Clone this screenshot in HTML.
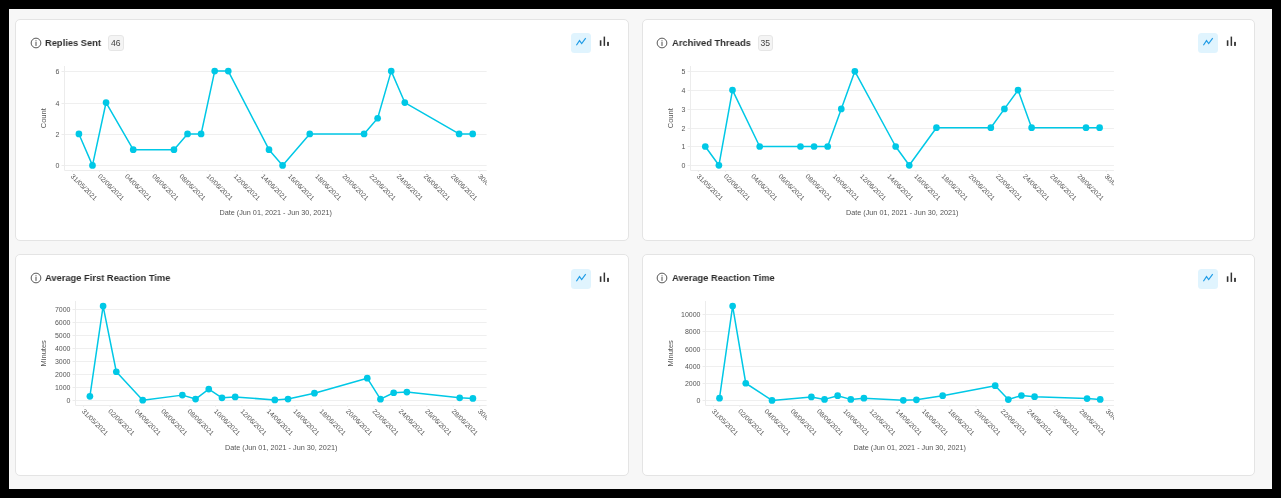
<!DOCTYPE html><html><head><meta charset="utf-8"><style>
*{margin:0;padding:0;box-sizing:border-box}
html,body{width:1281px;height:498px;overflow:hidden;background:#000;font-family:"Liberation Sans", sans-serif}
#bg{position:absolute;left:9px;top:9px;width:1263px;height:480px;background:#f7f7f7}
.card{position:absolute;background:#fff;border:1px solid #e4e4e4;border-radius:5px}
.ttl{position:absolute;font-weight:bold;font-size:9.9px;transform:scaleX(0.944);transform-origin:0 0;color:#2d2d2d;white-space:nowrap;line-height:1}
.badge{position:absolute;height:16px;border:1px solid #e6e6e6;background:#f4f4f4;border-radius:3px;font-size:8.6px;color:#444;line-height:15px;text-align:center}
.ic{position:absolute}
.btn{position:absolute;width:20px;height:20px;border-radius:3.5px;background:#e0f4fe}
svg.chart{position:absolute;left:0;top:0;will-change:transform}
.ttl,.badge{will-change:transform}
</style></head><body><div id="bg"></div>
<div class="card" style="left:15px;top:19px;width:614px;height:222px"></div>
<svg class="ic" style="left:29.7px;top:36.6px" width="12" height="12" viewBox="0 0 12 12"><circle cx="6" cy="6" r="4.85" fill="none" stroke="#3a3a3a" stroke-width="0.85"/><rect x="5.55" y="4.9" width="0.9" height="4" fill="#3a3a3a"/><circle cx="6" cy="3.75" r="0.6" fill="#3a3a3a"/></svg>
<div class="ttl" style="left:45.4px;top:37.6px">Replies Sent</div>
<div class="btn" style="left:571px;top:33px"></div>
<svg class="ic" style="left:571px;top:33px" width="20" height="20" viewBox="0 0 20 20"><polyline points="5.4,12.25 8.5,7.6 10.7,10.6 14.7,5.2" fill="none" stroke="#1e9be6" stroke-width="1.15"/></svg>
<svg class="ic" style="left:599px;top:33px" width="12" height="20" viewBox="0 0 12 20"><rect x="0.8" y="7.3" width="1.6" height="5.6" fill="#333"/><rect x="4.6" y="3.6" width="1.5" height="9.3" fill="#333"/><rect x="8.1" y="8.9" width="1.8" height="4" fill="#333"/></svg>
<div class="card" style="left:642px;top:19px;width:613px;height:222px"></div>
<svg class="ic" style="left:656.2px;top:36.6px" width="12" height="12" viewBox="0 0 12 12"><circle cx="6" cy="6" r="4.85" fill="none" stroke="#3a3a3a" stroke-width="0.85"/><rect x="5.55" y="4.9" width="0.9" height="4" fill="#3a3a3a"/><circle cx="6" cy="3.75" r="0.6" fill="#3a3a3a"/></svg>
<div class="ttl" style="left:672.4px;top:37.6px">Archived Threads</div>
<div class="btn" style="left:1198px;top:33px"></div>
<svg class="ic" style="left:1198px;top:33px" width="20" height="20" viewBox="0 0 20 20"><polyline points="5.4,12.25 8.5,7.6 10.7,10.6 14.7,5.2" fill="none" stroke="#1e9be6" stroke-width="1.15"/></svg>
<svg class="ic" style="left:1226px;top:33px" width="12" height="20" viewBox="0 0 12 20"><rect x="0.8" y="7.3" width="1.6" height="5.6" fill="#333"/><rect x="4.6" y="3.6" width="1.5" height="9.3" fill="#333"/><rect x="8.1" y="8.9" width="1.8" height="4" fill="#333"/></svg>
<div class="card" style="left:15px;top:254px;width:614px;height:222px"></div>
<svg class="ic" style="left:29.7px;top:272.4px" width="12" height="12" viewBox="0 0 12 12"><circle cx="6" cy="6" r="4.85" fill="none" stroke="#3a3a3a" stroke-width="0.85"/><rect x="5.55" y="4.9" width="0.9" height="4" fill="#3a3a3a"/><circle cx="6" cy="3.75" r="0.6" fill="#3a3a3a"/></svg>
<div class="ttl" style="left:45.4px;top:272.6px">Average First Reaction Time</div>
<div class="btn" style="left:571px;top:269px"></div>
<svg class="ic" style="left:571px;top:269px" width="20" height="20" viewBox="0 0 20 20"><polyline points="5.4,12.25 8.5,7.6 10.7,10.6 14.7,5.2" fill="none" stroke="#1e9be6" stroke-width="1.15"/></svg>
<svg class="ic" style="left:599px;top:269px" width="12" height="20" viewBox="0 0 12 20"><rect x="0.8" y="7.3" width="1.6" height="5.6" fill="#333"/><rect x="4.6" y="3.6" width="1.5" height="9.3" fill="#333"/><rect x="8.1" y="8.9" width="1.8" height="4" fill="#333"/></svg>
<div class="card" style="left:642px;top:254px;width:613px;height:222px"></div>
<svg class="ic" style="left:656.2px;top:272.4px" width="12" height="12" viewBox="0 0 12 12"><circle cx="6" cy="6" r="4.85" fill="none" stroke="#3a3a3a" stroke-width="0.85"/><rect x="5.55" y="4.9" width="0.9" height="4" fill="#3a3a3a"/><circle cx="6" cy="3.75" r="0.6" fill="#3a3a3a"/></svg>
<div class="ttl" style="left:672.4px;top:272.6px">Average Reaction Time</div>
<div class="btn" style="left:1198px;top:269px"></div>
<svg class="ic" style="left:1198px;top:269px" width="20" height="20" viewBox="0 0 20 20"><polyline points="5.4,12.25 8.5,7.6 10.7,10.6 14.7,5.2" fill="none" stroke="#1e9be6" stroke-width="1.15"/></svg>
<svg class="ic" style="left:1226px;top:269px" width="12" height="20" viewBox="0 0 12 20"><rect x="0.8" y="7.3" width="1.6" height="5.6" fill="#333"/><rect x="4.6" y="3.6" width="1.5" height="9.3" fill="#333"/><rect x="8.1" y="8.9" width="1.8" height="4" fill="#333"/></svg>
<svg class="chart" width="1281" height="498" font-family="Liberation Sans, sans-serif">
<clipPath id="clip0"><rect x="15" y="19" width="471.80" height="222"/></clipPath>
<g clip-path="url(#clip0)">
<line x1="64.50" x2="486.80" y1="165.50" y2="165.50" stroke="#efefef" stroke-width="1"/>
<line x1="64.50" x2="486.80" y1="134.50" y2="134.50" stroke="#efefef" stroke-width="1"/>
<line x1="64.50" x2="486.80" y1="103.50" y2="103.50" stroke="#efefef" stroke-width="1"/>
<line x1="64.50" x2="486.80" y1="71.50" y2="71.50" stroke="#efefef" stroke-width="1"/>
<line x1="64.50" x2="64.50" y1="66.00" y2="170.50" stroke="#ececec" stroke-width="1"/>
<line x1="61.50" x2="64.50" y1="165.50" y2="165.50" stroke="#ececec" stroke-width="1"/>
<text x="59.50" y="168.00" text-anchor="end" font-size="7" fill="#555">0</text>
<line x1="61.50" x2="64.50" y1="134.50" y2="134.50" stroke="#ececec" stroke-width="1"/>
<text x="59.50" y="137.00" text-anchor="end" font-size="7" fill="#555">2</text>
<line x1="61.50" x2="64.50" y1="103.50" y2="103.50" stroke="#ececec" stroke-width="1"/>
<text x="59.50" y="106.00" text-anchor="end" font-size="7" fill="#555">4</text>
<line x1="61.50" x2="64.50" y1="71.50" y2="71.50" stroke="#ececec" stroke-width="1"/>
<text x="59.50" y="74.00" text-anchor="end" font-size="7" fill="#555">6</text>
<line x1="64.50" x2="486.80" y1="170.50" y2="170.50" stroke="#ececec" stroke-width="1"/>
<line x1="72.40" x2="72.40" y1="170.00" y2="172.00" stroke="#ececec" stroke-width="1"/>
<text x="70.30" y="176.80" transform="rotate(45 70.30 176.80)" font-size="6.8" fill="#555">31/05/2021</text>
<line x1="99.56" x2="99.56" y1="170.00" y2="172.00" stroke="#ececec" stroke-width="1"/>
<text x="97.46" y="176.80" transform="rotate(45 97.46 176.80)" font-size="6.8" fill="#555">02/06/2021</text>
<line x1="126.72" x2="126.72" y1="170.00" y2="172.00" stroke="#ececec" stroke-width="1"/>
<text x="124.62" y="176.80" transform="rotate(45 124.62 176.80)" font-size="6.8" fill="#555">04/06/2021</text>
<line x1="153.88" x2="153.88" y1="170.00" y2="172.00" stroke="#ececec" stroke-width="1"/>
<text x="151.78" y="176.80" transform="rotate(45 151.78 176.80)" font-size="6.8" fill="#555">06/06/2021</text>
<line x1="181.03" x2="181.03" y1="170.00" y2="172.00" stroke="#ececec" stroke-width="1"/>
<text x="178.93" y="176.80" transform="rotate(45 178.93 176.80)" font-size="6.8" fill="#555">08/06/2021</text>
<line x1="208.19" x2="208.19" y1="170.00" y2="172.00" stroke="#ececec" stroke-width="1"/>
<text x="206.09" y="176.80" transform="rotate(45 206.09 176.80)" font-size="6.8" fill="#555">10/06/2021</text>
<line x1="235.35" x2="235.35" y1="170.00" y2="172.00" stroke="#ececec" stroke-width="1"/>
<text x="233.25" y="176.80" transform="rotate(45 233.25 176.80)" font-size="6.8" fill="#555">12/06/2021</text>
<line x1="262.51" x2="262.51" y1="170.00" y2="172.00" stroke="#ececec" stroke-width="1"/>
<text x="260.41" y="176.80" transform="rotate(45 260.41 176.80)" font-size="6.8" fill="#555">14/06/2021</text>
<line x1="289.67" x2="289.67" y1="170.00" y2="172.00" stroke="#ececec" stroke-width="1"/>
<text x="287.57" y="176.80" transform="rotate(45 287.57 176.80)" font-size="6.8" fill="#555">16/06/2021</text>
<line x1="316.83" x2="316.83" y1="170.00" y2="172.00" stroke="#ececec" stroke-width="1"/>
<text x="314.73" y="176.80" transform="rotate(45 314.73 176.80)" font-size="6.8" fill="#555">18/06/2021</text>
<line x1="343.99" x2="343.99" y1="170.00" y2="172.00" stroke="#ececec" stroke-width="1"/>
<text x="341.89" y="176.80" transform="rotate(45 341.89 176.80)" font-size="6.8" fill="#555">20/06/2021</text>
<line x1="371.14" x2="371.14" y1="170.00" y2="172.00" stroke="#ececec" stroke-width="1"/>
<text x="369.04" y="176.80" transform="rotate(45 369.04 176.80)" font-size="6.8" fill="#555">22/06/2021</text>
<line x1="398.30" x2="398.30" y1="170.00" y2="172.00" stroke="#ececec" stroke-width="1"/>
<text x="396.20" y="176.80" transform="rotate(45 396.20 176.80)" font-size="6.8" fill="#555">24/06/2021</text>
<line x1="425.46" x2="425.46" y1="170.00" y2="172.00" stroke="#ececec" stroke-width="1"/>
<text x="423.36" y="176.80" transform="rotate(45 423.36 176.80)" font-size="6.8" fill="#555">26/06/2021</text>
<line x1="452.62" x2="452.62" y1="170.00" y2="172.00" stroke="#ececec" stroke-width="1"/>
<text x="450.52" y="176.80" transform="rotate(45 450.52 176.80)" font-size="6.8" fill="#555">28/06/2021</text>
<line x1="479.78" x2="479.78" y1="170.00" y2="172.00" stroke="#ececec" stroke-width="1"/>
<text x="477.68" y="176.80" transform="rotate(45 477.68 176.80)" font-size="6.8" fill="#555">30/06/2021</text>
<polyline points="78.90,133.97 92.48,165.40 106.06,102.53 133.22,149.68 173.96,149.68 187.53,133.97 201.11,133.97 214.69,71.10 228.27,71.10 269.01,149.68 282.59,165.40 309.75,133.97 364.07,133.97 377.64,118.25 391.22,71.10 404.80,102.53 459.12,133.97 472.70,133.97" fill="none" stroke="#00c8e6" stroke-width="1.5" stroke-linejoin="round"/>
<circle cx="78.90" cy="133.97" r="3.35" fill="#00c8e6"/>
<circle cx="92.48" cy="165.40" r="3.35" fill="#00c8e6"/>
<circle cx="106.06" cy="102.53" r="3.35" fill="#00c8e6"/>
<circle cx="133.22" cy="149.68" r="3.35" fill="#00c8e6"/>
<circle cx="173.96" cy="149.68" r="3.35" fill="#00c8e6"/>
<circle cx="187.53" cy="133.97" r="3.35" fill="#00c8e6"/>
<circle cx="201.11" cy="133.97" r="3.35" fill="#00c8e6"/>
<circle cx="214.69" cy="71.10" r="3.35" fill="#00c8e6"/>
<circle cx="228.27" cy="71.10" r="3.35" fill="#00c8e6"/>
<circle cx="269.01" cy="149.68" r="3.35" fill="#00c8e6"/>
<circle cx="282.59" cy="165.40" r="3.35" fill="#00c8e6"/>
<circle cx="309.75" cy="133.97" r="3.35" fill="#00c8e6"/>
<circle cx="364.07" cy="133.97" r="3.35" fill="#00c8e6"/>
<circle cx="377.64" cy="118.25" r="3.35" fill="#00c8e6"/>
<circle cx="391.22" cy="71.10" r="3.35" fill="#00c8e6"/>
<circle cx="404.80" cy="102.53" r="3.35" fill="#00c8e6"/>
<circle cx="459.12" cy="133.97" r="3.35" fill="#00c8e6"/>
<circle cx="472.70" cy="133.97" r="3.35" fill="#00c8e6"/>
</g>
<text x="46.30" y="118.25" transform="rotate(-90 46.30 118.25)" text-anchor="middle" font-size="7.5" fill="#555">Count</text>
<text x="275.65" y="214.90" text-anchor="middle" font-size="7.25" fill="#555">Date (Jun 01, 2021 - Jun 30, 2021)</text>
<clipPath id="clip1"><rect x="642" y="19" width="471.90" height="222"/></clipPath>
<g clip-path="url(#clip1)">
<line x1="690.50" x2="1113.90" y1="165.50" y2="165.50" stroke="#efefef" stroke-width="1"/>
<line x1="690.50" x2="1113.90" y1="146.50" y2="146.50" stroke="#efefef" stroke-width="1"/>
<line x1="690.50" x2="1113.90" y1="128.50" y2="128.50" stroke="#efefef" stroke-width="1"/>
<line x1="690.50" x2="1113.90" y1="109.50" y2="109.50" stroke="#efefef" stroke-width="1"/>
<line x1="690.50" x2="1113.90" y1="90.50" y2="90.50" stroke="#efefef" stroke-width="1"/>
<line x1="690.50" x2="1113.90" y1="71.50" y2="71.50" stroke="#efefef" stroke-width="1"/>
<line x1="690.50" x2="690.50" y1="66.00" y2="170.50" stroke="#ececec" stroke-width="1"/>
<line x1="687.50" x2="690.50" y1="165.50" y2="165.50" stroke="#ececec" stroke-width="1"/>
<text x="685.50" y="168.00" text-anchor="end" font-size="7" fill="#555">0</text>
<line x1="687.50" x2="690.50" y1="146.50" y2="146.50" stroke="#ececec" stroke-width="1"/>
<text x="685.50" y="149.00" text-anchor="end" font-size="7" fill="#555">1</text>
<line x1="687.50" x2="690.50" y1="128.50" y2="128.50" stroke="#ececec" stroke-width="1"/>
<text x="685.50" y="131.00" text-anchor="end" font-size="7" fill="#555">2</text>
<line x1="687.50" x2="690.50" y1="109.50" y2="109.50" stroke="#ececec" stroke-width="1"/>
<text x="685.50" y="112.00" text-anchor="end" font-size="7" fill="#555">3</text>
<line x1="687.50" x2="690.50" y1="90.50" y2="90.50" stroke="#ececec" stroke-width="1"/>
<text x="685.50" y="93.00" text-anchor="end" font-size="7" fill="#555">4</text>
<line x1="687.50" x2="690.50" y1="71.50" y2="71.50" stroke="#ececec" stroke-width="1"/>
<text x="685.50" y="74.00" text-anchor="end" font-size="7" fill="#555">5</text>
<line x1="690.50" x2="1113.90" y1="170.50" y2="170.50" stroke="#ececec" stroke-width="1"/>
<line x1="698.40" x2="698.40" y1="170.00" y2="172.00" stroke="#ececec" stroke-width="1"/>
<text x="696.30" y="176.80" transform="rotate(45 696.30 176.80)" font-size="6.8" fill="#555">31/05/2021</text>
<line x1="725.59" x2="725.59" y1="170.00" y2="172.00" stroke="#ececec" stroke-width="1"/>
<text x="723.49" y="176.80" transform="rotate(45 723.49 176.80)" font-size="6.8" fill="#555">02/06/2021</text>
<line x1="752.79" x2="752.79" y1="170.00" y2="172.00" stroke="#ececec" stroke-width="1"/>
<text x="750.69" y="176.80" transform="rotate(45 750.69 176.80)" font-size="6.8" fill="#555">04/06/2021</text>
<line x1="779.98" x2="779.98" y1="170.00" y2="172.00" stroke="#ececec" stroke-width="1"/>
<text x="777.88" y="176.80" transform="rotate(45 777.88 176.80)" font-size="6.8" fill="#555">06/06/2021</text>
<line x1="807.17" x2="807.17" y1="170.00" y2="172.00" stroke="#ececec" stroke-width="1"/>
<text x="805.07" y="176.80" transform="rotate(45 805.07 176.80)" font-size="6.8" fill="#555">08/06/2021</text>
<line x1="834.37" x2="834.37" y1="170.00" y2="172.00" stroke="#ececec" stroke-width="1"/>
<text x="832.27" y="176.80" transform="rotate(45 832.27 176.80)" font-size="6.8" fill="#555">10/06/2021</text>
<line x1="861.56" x2="861.56" y1="170.00" y2="172.00" stroke="#ececec" stroke-width="1"/>
<text x="859.46" y="176.80" transform="rotate(45 859.46 176.80)" font-size="6.8" fill="#555">12/06/2021</text>
<line x1="888.75" x2="888.75" y1="170.00" y2="172.00" stroke="#ececec" stroke-width="1"/>
<text x="886.65" y="176.80" transform="rotate(45 886.65 176.80)" font-size="6.8" fill="#555">14/06/2021</text>
<line x1="915.94" x2="915.94" y1="170.00" y2="172.00" stroke="#ececec" stroke-width="1"/>
<text x="913.84" y="176.80" transform="rotate(45 913.84 176.80)" font-size="6.8" fill="#555">16/06/2021</text>
<line x1="943.14" x2="943.14" y1="170.00" y2="172.00" stroke="#ececec" stroke-width="1"/>
<text x="941.04" y="176.80" transform="rotate(45 941.04 176.80)" font-size="6.8" fill="#555">18/06/2021</text>
<line x1="970.33" x2="970.33" y1="170.00" y2="172.00" stroke="#ececec" stroke-width="1"/>
<text x="968.23" y="176.80" transform="rotate(45 968.23 176.80)" font-size="6.8" fill="#555">20/06/2021</text>
<line x1="997.52" x2="997.52" y1="170.00" y2="172.00" stroke="#ececec" stroke-width="1"/>
<text x="995.42" y="176.80" transform="rotate(45 995.42 176.80)" font-size="6.8" fill="#555">22/06/2021</text>
<line x1="1024.72" x2="1024.72" y1="170.00" y2="172.00" stroke="#ececec" stroke-width="1"/>
<text x="1022.62" y="176.80" transform="rotate(45 1022.62 176.80)" font-size="6.8" fill="#555">24/06/2021</text>
<line x1="1051.91" x2="1051.91" y1="170.00" y2="172.00" stroke="#ececec" stroke-width="1"/>
<text x="1049.81" y="176.80" transform="rotate(45 1049.81 176.80)" font-size="6.8" fill="#555">26/06/2021</text>
<line x1="1079.10" x2="1079.10" y1="170.00" y2="172.00" stroke="#ececec" stroke-width="1"/>
<text x="1077.00" y="176.80" transform="rotate(45 1077.00 176.80)" font-size="6.8" fill="#555">28/06/2021</text>
<line x1="1106.30" x2="1106.30" y1="170.00" y2="172.00" stroke="#ececec" stroke-width="1"/>
<text x="1104.20" y="176.80" transform="rotate(45 1104.20 176.80)" font-size="6.8" fill="#555">30/06/2021</text>
<polyline points="705.30,146.50 718.90,165.30 732.49,90.10 759.69,146.50 800.48,146.50 814.07,146.50 827.67,146.50 841.27,108.90 854.86,71.30 895.65,146.50 909.25,165.30 936.44,127.70 990.83,127.70 1004.42,108.90 1018.02,90.10 1031.62,127.70 1086.00,127.70 1099.60,127.70" fill="none" stroke="#00c8e6" stroke-width="1.5" stroke-linejoin="round"/>
<circle cx="705.30" cy="146.50" r="3.35" fill="#00c8e6"/>
<circle cx="718.90" cy="165.30" r="3.35" fill="#00c8e6"/>
<circle cx="732.49" cy="90.10" r="3.35" fill="#00c8e6"/>
<circle cx="759.69" cy="146.50" r="3.35" fill="#00c8e6"/>
<circle cx="800.48" cy="146.50" r="3.35" fill="#00c8e6"/>
<circle cx="814.07" cy="146.50" r="3.35" fill="#00c8e6"/>
<circle cx="827.67" cy="146.50" r="3.35" fill="#00c8e6"/>
<circle cx="841.27" cy="108.90" r="3.35" fill="#00c8e6"/>
<circle cx="854.86" cy="71.30" r="3.35" fill="#00c8e6"/>
<circle cx="895.65" cy="146.50" r="3.35" fill="#00c8e6"/>
<circle cx="909.25" cy="165.30" r="3.35" fill="#00c8e6"/>
<circle cx="936.44" cy="127.70" r="3.35" fill="#00c8e6"/>
<circle cx="990.83" cy="127.70" r="3.35" fill="#00c8e6"/>
<circle cx="1004.42" cy="108.90" r="3.35" fill="#00c8e6"/>
<circle cx="1018.02" cy="90.10" r="3.35" fill="#00c8e6"/>
<circle cx="1031.62" cy="127.70" r="3.35" fill="#00c8e6"/>
<circle cx="1086.00" cy="127.70" r="3.35" fill="#00c8e6"/>
<circle cx="1099.60" cy="127.70" r="3.35" fill="#00c8e6"/>
</g>
<text x="673.30" y="118.25" transform="rotate(-90 673.30 118.25)" text-anchor="middle" font-size="7.5" fill="#555">Count</text>
<text x="902.20" y="214.90" text-anchor="middle" font-size="7.25" fill="#555">Date (Jun 01, 2021 - Jun 30, 2021)</text>
<clipPath id="clip2"><rect x="15" y="254" width="471.80" height="222"/></clipPath>
<g clip-path="url(#clip2)">
<line x1="75.50" x2="486.80" y1="400.50" y2="400.50" stroke="#efefef" stroke-width="1"/>
<line x1="75.50" x2="486.80" y1="387.50" y2="387.50" stroke="#efefef" stroke-width="1"/>
<line x1="75.50" x2="486.80" y1="374.50" y2="374.50" stroke="#efefef" stroke-width="1"/>
<line x1="75.50" x2="486.80" y1="361.50" y2="361.50" stroke="#efefef" stroke-width="1"/>
<line x1="75.50" x2="486.80" y1="348.50" y2="348.50" stroke="#efefef" stroke-width="1"/>
<line x1="75.50" x2="486.80" y1="335.50" y2="335.50" stroke="#efefef" stroke-width="1"/>
<line x1="75.50" x2="486.80" y1="322.50" y2="322.50" stroke="#efefef" stroke-width="1"/>
<line x1="75.50" x2="486.80" y1="309.50" y2="309.50" stroke="#efefef" stroke-width="1"/>
<line x1="75.50" x2="75.50" y1="301.00" y2="405.50" stroke="#ececec" stroke-width="1"/>
<line x1="72.50" x2="75.50" y1="400.50" y2="400.50" stroke="#ececec" stroke-width="1"/>
<text x="70.50" y="403.00" text-anchor="end" font-size="7" fill="#555">0</text>
<line x1="72.50" x2="75.50" y1="387.50" y2="387.50" stroke="#ececec" stroke-width="1"/>
<text x="70.50" y="390.00" text-anchor="end" font-size="7" fill="#555">1000</text>
<line x1="72.50" x2="75.50" y1="374.50" y2="374.50" stroke="#ececec" stroke-width="1"/>
<text x="70.50" y="377.00" text-anchor="end" font-size="7" fill="#555">2000</text>
<line x1="72.50" x2="75.50" y1="361.50" y2="361.50" stroke="#ececec" stroke-width="1"/>
<text x="70.50" y="364.00" text-anchor="end" font-size="7" fill="#555">3000</text>
<line x1="72.50" x2="75.50" y1="348.50" y2="348.50" stroke="#ececec" stroke-width="1"/>
<text x="70.50" y="351.00" text-anchor="end" font-size="7" fill="#555">4000</text>
<line x1="72.50" x2="75.50" y1="335.50" y2="335.50" stroke="#ececec" stroke-width="1"/>
<text x="70.50" y="338.00" text-anchor="end" font-size="7" fill="#555">5000</text>
<line x1="72.50" x2="75.50" y1="322.50" y2="322.50" stroke="#ececec" stroke-width="1"/>
<text x="70.50" y="325.00" text-anchor="end" font-size="7" fill="#555">6000</text>
<line x1="72.50" x2="75.50" y1="309.50" y2="309.50" stroke="#ececec" stroke-width="1"/>
<text x="70.50" y="312.00" text-anchor="end" font-size="7" fill="#555">7000</text>
<line x1="75.50" x2="486.80" y1="405.50" y2="405.50" stroke="#ececec" stroke-width="1"/>
<line x1="83.50" x2="83.50" y1="405.00" y2="407.00" stroke="#ececec" stroke-width="1"/>
<text x="81.40" y="411.80" transform="rotate(45 81.40 411.80)" font-size="6.8" fill="#555">31/05/2021</text>
<line x1="109.91" x2="109.91" y1="405.00" y2="407.00" stroke="#ececec" stroke-width="1"/>
<text x="107.81" y="411.80" transform="rotate(45 107.81 411.80)" font-size="6.8" fill="#555">02/06/2021</text>
<line x1="136.33" x2="136.33" y1="405.00" y2="407.00" stroke="#ececec" stroke-width="1"/>
<text x="134.23" y="411.80" transform="rotate(45 134.23 411.80)" font-size="6.8" fill="#555">04/06/2021</text>
<line x1="162.74" x2="162.74" y1="405.00" y2="407.00" stroke="#ececec" stroke-width="1"/>
<text x="160.64" y="411.80" transform="rotate(45 160.64 411.80)" font-size="6.8" fill="#555">06/06/2021</text>
<line x1="189.16" x2="189.16" y1="405.00" y2="407.00" stroke="#ececec" stroke-width="1"/>
<text x="187.06" y="411.80" transform="rotate(45 187.06 411.80)" font-size="6.8" fill="#555">08/06/2021</text>
<line x1="215.57" x2="215.57" y1="405.00" y2="407.00" stroke="#ececec" stroke-width="1"/>
<text x="213.47" y="411.80" transform="rotate(45 213.47 411.80)" font-size="6.8" fill="#555">10/06/2021</text>
<line x1="241.98" x2="241.98" y1="405.00" y2="407.00" stroke="#ececec" stroke-width="1"/>
<text x="239.88" y="411.80" transform="rotate(45 239.88 411.80)" font-size="6.8" fill="#555">12/06/2021</text>
<line x1="268.40" x2="268.40" y1="405.00" y2="407.00" stroke="#ececec" stroke-width="1"/>
<text x="266.30" y="411.80" transform="rotate(45 266.30 411.80)" font-size="6.8" fill="#555">14/06/2021</text>
<line x1="294.81" x2="294.81" y1="405.00" y2="407.00" stroke="#ececec" stroke-width="1"/>
<text x="292.71" y="411.80" transform="rotate(45 292.71 411.80)" font-size="6.8" fill="#555">16/06/2021</text>
<line x1="321.22" x2="321.22" y1="405.00" y2="407.00" stroke="#ececec" stroke-width="1"/>
<text x="319.12" y="411.80" transform="rotate(45 319.12 411.80)" font-size="6.8" fill="#555">18/06/2021</text>
<line x1="347.64" x2="347.64" y1="405.00" y2="407.00" stroke="#ececec" stroke-width="1"/>
<text x="345.54" y="411.80" transform="rotate(45 345.54 411.80)" font-size="6.8" fill="#555">20/06/2021</text>
<line x1="374.05" x2="374.05" y1="405.00" y2="407.00" stroke="#ececec" stroke-width="1"/>
<text x="371.95" y="411.80" transform="rotate(45 371.95 411.80)" font-size="6.8" fill="#555">22/06/2021</text>
<line x1="400.47" x2="400.47" y1="405.00" y2="407.00" stroke="#ececec" stroke-width="1"/>
<text x="398.37" y="411.80" transform="rotate(45 398.37 411.80)" font-size="6.8" fill="#555">24/06/2021</text>
<line x1="426.88" x2="426.88" y1="405.00" y2="407.00" stroke="#ececec" stroke-width="1"/>
<text x="424.78" y="411.80" transform="rotate(45 424.78 411.80)" font-size="6.8" fill="#555">26/06/2021</text>
<line x1="453.29" x2="453.29" y1="405.00" y2="407.00" stroke="#ececec" stroke-width="1"/>
<text x="451.19" y="411.80" transform="rotate(45 451.19 411.80)" font-size="6.8" fill="#555">28/06/2021</text>
<line x1="479.71" x2="479.71" y1="405.00" y2="407.00" stroke="#ececec" stroke-width="1"/>
<text x="477.61" y="411.80" transform="rotate(45 477.61 411.80)" font-size="6.8" fill="#555">30/06/2021</text>
<polyline points="89.90,396.30 103.11,306.10 116.31,371.77 142.73,400.21 182.35,395.12 195.56,399.03 208.76,389.12 221.97,397.86 235.18,396.95 274.80,399.95 288.00,399.03 314.42,393.17 367.24,378.17 380.45,399.17 393.66,392.77 406.87,392.12 459.69,397.86 472.90,398.38" fill="none" stroke="#00c8e6" stroke-width="1.5" stroke-linejoin="round"/>
<circle cx="89.90" cy="396.30" r="3.35" fill="#00c8e6"/>
<circle cx="103.11" cy="306.10" r="3.35" fill="#00c8e6"/>
<circle cx="116.31" cy="371.77" r="3.35" fill="#00c8e6"/>
<circle cx="142.73" cy="400.21" r="3.35" fill="#00c8e6"/>
<circle cx="182.35" cy="395.12" r="3.35" fill="#00c8e6"/>
<circle cx="195.56" cy="399.03" r="3.35" fill="#00c8e6"/>
<circle cx="208.76" cy="389.12" r="3.35" fill="#00c8e6"/>
<circle cx="221.97" cy="397.86" r="3.35" fill="#00c8e6"/>
<circle cx="235.18" cy="396.95" r="3.35" fill="#00c8e6"/>
<circle cx="274.80" cy="399.95" r="3.35" fill="#00c8e6"/>
<circle cx="288.00" cy="399.03" r="3.35" fill="#00c8e6"/>
<circle cx="314.42" cy="393.17" r="3.35" fill="#00c8e6"/>
<circle cx="367.24" cy="378.17" r="3.35" fill="#00c8e6"/>
<circle cx="380.45" cy="399.17" r="3.35" fill="#00c8e6"/>
<circle cx="393.66" cy="392.77" r="3.35" fill="#00c8e6"/>
<circle cx="406.87" cy="392.12" r="3.35" fill="#00c8e6"/>
<circle cx="459.69" cy="397.86" r="3.35" fill="#00c8e6"/>
<circle cx="472.90" cy="398.38" r="3.35" fill="#00c8e6"/>
</g>
<text x="46.30" y="353.25" transform="rotate(-90 46.30 353.25)" text-anchor="middle" font-size="7.5" fill="#555">Minutes</text>
<text x="281.15" y="449.90" text-anchor="middle" font-size="7.25" fill="#555">Date (Jun 01, 2021 - Jun 30, 2021)</text>
<clipPath id="clip3"><rect x="642" y="254" width="471.90" height="222"/></clipPath>
<g clip-path="url(#clip3)">
<line x1="705.50" x2="1113.90" y1="400.50" y2="400.50" stroke="#efefef" stroke-width="1"/>
<line x1="705.50" x2="1113.90" y1="383.50" y2="383.50" stroke="#efefef" stroke-width="1"/>
<line x1="705.50" x2="1113.90" y1="366.50" y2="366.50" stroke="#efefef" stroke-width="1"/>
<line x1="705.50" x2="1113.90" y1="349.50" y2="349.50" stroke="#efefef" stroke-width="1"/>
<line x1="705.50" x2="1113.90" y1="331.50" y2="331.50" stroke="#efefef" stroke-width="1"/>
<line x1="705.50" x2="1113.90" y1="314.50" y2="314.50" stroke="#efefef" stroke-width="1"/>
<line x1="705.50" x2="705.50" y1="301.00" y2="405.50" stroke="#ececec" stroke-width="1"/>
<line x1="702.50" x2="705.50" y1="400.50" y2="400.50" stroke="#ececec" stroke-width="1"/>
<text x="700.50" y="403.00" text-anchor="end" font-size="7" fill="#555">0</text>
<line x1="702.50" x2="705.50" y1="383.50" y2="383.50" stroke="#ececec" stroke-width="1"/>
<text x="700.50" y="386.00" text-anchor="end" font-size="7" fill="#555">2000</text>
<line x1="702.50" x2="705.50" y1="366.50" y2="366.50" stroke="#ececec" stroke-width="1"/>
<text x="700.50" y="369.00" text-anchor="end" font-size="7" fill="#555">4000</text>
<line x1="702.50" x2="705.50" y1="349.50" y2="349.50" stroke="#ececec" stroke-width="1"/>
<text x="700.50" y="352.00" text-anchor="end" font-size="7" fill="#555">6000</text>
<line x1="702.50" x2="705.50" y1="331.50" y2="331.50" stroke="#ececec" stroke-width="1"/>
<text x="700.50" y="334.00" text-anchor="end" font-size="7" fill="#555">8000</text>
<line x1="702.50" x2="705.50" y1="314.50" y2="314.50" stroke="#ececec" stroke-width="1"/>
<text x="700.50" y="317.00" text-anchor="end" font-size="7" fill="#555">10000</text>
<line x1="705.50" x2="1113.90" y1="405.50" y2="405.50" stroke="#ececec" stroke-width="1"/>
<line x1="713.50" x2="713.50" y1="405.00" y2="407.00" stroke="#ececec" stroke-width="1"/>
<text x="711.40" y="411.80" transform="rotate(45 711.40 411.80)" font-size="6.8" fill="#555">31/05/2021</text>
<line x1="739.76" x2="739.76" y1="405.00" y2="407.00" stroke="#ececec" stroke-width="1"/>
<text x="737.66" y="411.80" transform="rotate(45 737.66 411.80)" font-size="6.8" fill="#555">02/06/2021</text>
<line x1="766.01" x2="766.01" y1="405.00" y2="407.00" stroke="#ececec" stroke-width="1"/>
<text x="763.91" y="411.80" transform="rotate(45 763.91 411.80)" font-size="6.8" fill="#555">04/06/2021</text>
<line x1="792.27" x2="792.27" y1="405.00" y2="407.00" stroke="#ececec" stroke-width="1"/>
<text x="790.17" y="411.80" transform="rotate(45 790.17 411.80)" font-size="6.8" fill="#555">06/06/2021</text>
<line x1="818.52" x2="818.52" y1="405.00" y2="407.00" stroke="#ececec" stroke-width="1"/>
<text x="816.42" y="411.80" transform="rotate(45 816.42 411.80)" font-size="6.8" fill="#555">08/06/2021</text>
<line x1="844.78" x2="844.78" y1="405.00" y2="407.00" stroke="#ececec" stroke-width="1"/>
<text x="842.68" y="411.80" transform="rotate(45 842.68 411.80)" font-size="6.8" fill="#555">10/06/2021</text>
<line x1="871.03" x2="871.03" y1="405.00" y2="407.00" stroke="#ececec" stroke-width="1"/>
<text x="868.93" y="411.80" transform="rotate(45 868.93 411.80)" font-size="6.8" fill="#555">12/06/2021</text>
<line x1="897.29" x2="897.29" y1="405.00" y2="407.00" stroke="#ececec" stroke-width="1"/>
<text x="895.19" y="411.80" transform="rotate(45 895.19 411.80)" font-size="6.8" fill="#555">14/06/2021</text>
<line x1="923.54" x2="923.54" y1="405.00" y2="407.00" stroke="#ececec" stroke-width="1"/>
<text x="921.44" y="411.80" transform="rotate(45 921.44 411.80)" font-size="6.8" fill="#555">16/06/2021</text>
<line x1="949.80" x2="949.80" y1="405.00" y2="407.00" stroke="#ececec" stroke-width="1"/>
<text x="947.70" y="411.80" transform="rotate(45 947.70 411.80)" font-size="6.8" fill="#555">18/06/2021</text>
<line x1="976.05" x2="976.05" y1="405.00" y2="407.00" stroke="#ececec" stroke-width="1"/>
<text x="973.95" y="411.80" transform="rotate(45 973.95 411.80)" font-size="6.8" fill="#555">20/06/2021</text>
<line x1="1002.31" x2="1002.31" y1="405.00" y2="407.00" stroke="#ececec" stroke-width="1"/>
<text x="1000.21" y="411.80" transform="rotate(45 1000.21 411.80)" font-size="6.8" fill="#555">22/06/2021</text>
<line x1="1028.56" x2="1028.56" y1="405.00" y2="407.00" stroke="#ececec" stroke-width="1"/>
<text x="1026.46" y="411.80" transform="rotate(45 1026.46 411.80)" font-size="6.8" fill="#555">24/06/2021</text>
<line x1="1054.82" x2="1054.82" y1="405.00" y2="407.00" stroke="#ececec" stroke-width="1"/>
<text x="1052.72" y="411.80" transform="rotate(45 1052.72 411.80)" font-size="6.8" fill="#555">26/06/2021</text>
<line x1="1081.07" x2="1081.07" y1="405.00" y2="407.00" stroke="#ececec" stroke-width="1"/>
<text x="1078.97" y="411.80" transform="rotate(45 1078.97 411.80)" font-size="6.8" fill="#555">28/06/2021</text>
<line x1="1107.33" x2="1107.33" y1="405.00" y2="407.00" stroke="#ececec" stroke-width="1"/>
<text x="1105.23" y="411.80" transform="rotate(45 1105.23 411.80)" font-size="6.8" fill="#555">30/06/2021</text>
<polyline points="719.50,398.18 732.63,306.10 745.76,383.25 772.01,400.43 811.39,396.89 824.52,399.39 837.65,395.68 850.78,399.39 863.90,398.18 903.29,400.34 916.41,399.82 942.67,395.68 995.18,385.67 1008.31,399.56 1021.43,395.51 1034.56,396.72 1087.07,398.62 1100.20,399.39" fill="none" stroke="#00c8e6" stroke-width="1.5" stroke-linejoin="round"/>
<circle cx="719.50" cy="398.18" r="3.35" fill="#00c8e6"/>
<circle cx="732.63" cy="306.10" r="3.35" fill="#00c8e6"/>
<circle cx="745.76" cy="383.25" r="3.35" fill="#00c8e6"/>
<circle cx="772.01" cy="400.43" r="3.35" fill="#00c8e6"/>
<circle cx="811.39" cy="396.89" r="3.35" fill="#00c8e6"/>
<circle cx="824.52" cy="399.39" r="3.35" fill="#00c8e6"/>
<circle cx="837.65" cy="395.68" r="3.35" fill="#00c8e6"/>
<circle cx="850.78" cy="399.39" r="3.35" fill="#00c8e6"/>
<circle cx="863.90" cy="398.18" r="3.35" fill="#00c8e6"/>
<circle cx="903.29" cy="400.34" r="3.35" fill="#00c8e6"/>
<circle cx="916.41" cy="399.82" r="3.35" fill="#00c8e6"/>
<circle cx="942.67" cy="395.68" r="3.35" fill="#00c8e6"/>
<circle cx="995.18" cy="385.67" r="3.35" fill="#00c8e6"/>
<circle cx="1008.31" cy="399.56" r="3.35" fill="#00c8e6"/>
<circle cx="1021.43" cy="395.51" r="3.35" fill="#00c8e6"/>
<circle cx="1034.56" cy="396.72" r="3.35" fill="#00c8e6"/>
<circle cx="1087.07" cy="398.62" r="3.35" fill="#00c8e6"/>
<circle cx="1100.20" cy="399.39" r="3.35" fill="#00c8e6"/>
</g>
<text x="673.30" y="353.25" transform="rotate(-90 673.30 353.25)" text-anchor="middle" font-size="7.5" fill="#555">Minutes</text>
<text x="909.70" y="449.90" text-anchor="middle" font-size="7.25" fill="#555">Date (Jun 01, 2021 - Jun 30, 2021)</text>
</svg>
<div class="badge" style="left:108px;top:35px;width:15.5px">46</div>
<div class="badge" style="left:758px;top:35px;width:14.5px">35</div>
</body></html>
